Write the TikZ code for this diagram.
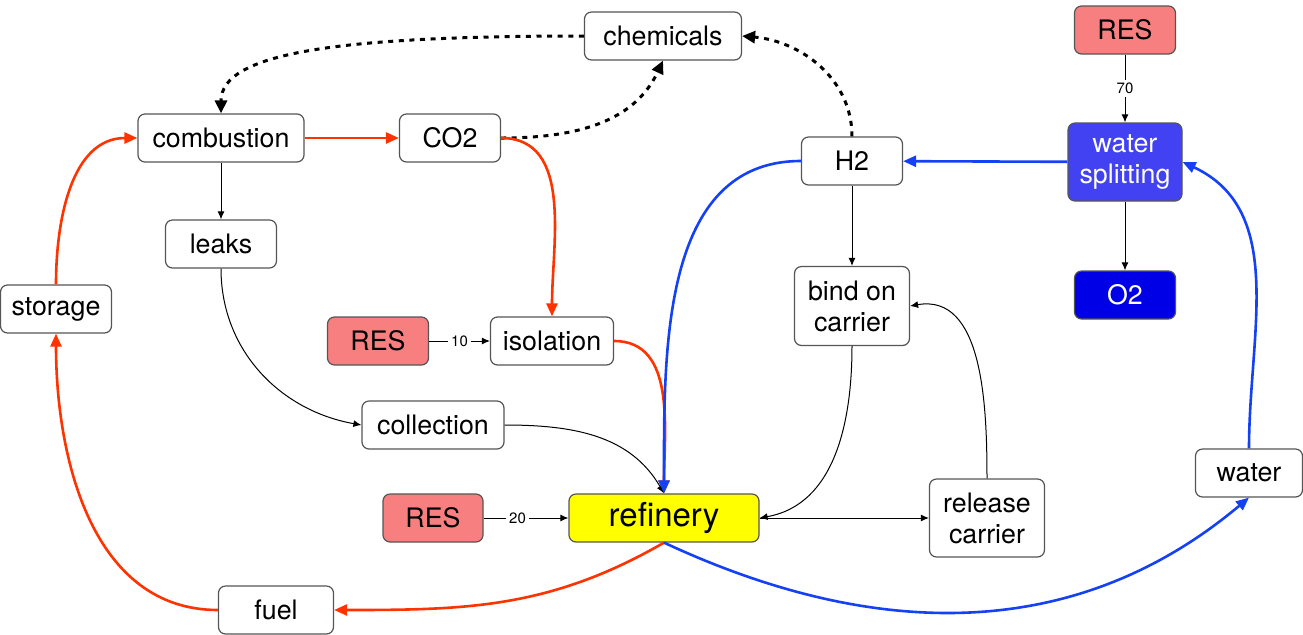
\documentclass[tikz,border=0pt]{standalone}
\usepackage{fontspec}
\setmainfont{TeX Gyre Heros}
\usepackage{xcolor}
\usepackage{tikz}
\usetikzlibrary{arrows.meta}
\definecolor{cRes}{HTML}{F77F7F}
\definecolor{cSplit}{HTML}{4242F2}
\definecolor{cOxy}{HTML}{0000E6}
\definecolor{cRef}{HTML}{FFFF00}
\definecolor{cRed}{HTML}{FF3300}
\definecolor{cBlue}{HTML}{1541F5}
\definecolor{cEdge}{HTML}{555555}
\tikzset{
  base/.style={rounded corners=3.5pt,draw=cEdge,align=center,font=\fontsize{13.4}{15.5}\selectfont,minimum height=24pt,inner sep=2pt,line width=0.6pt},
  box/.style={base,fill=white}, rnode/.style={base,fill=cRes},
  snode/.style={base,fill=cSplit,text=white}, onode/.style={base,fill=cOxy,text=white},
  fnode/.style={base,fill=cRef,font=\fontsize{16.5}{18}\selectfont},
  arr/.style={-{Latex[length=4pt,width=3.5pt]},line width=0.5pt},
  redarr/.style={-{Triangle[length=6.5pt,width=5.5pt]},line width=1.3pt,draw=cRed},
  bluearr/.style={-{Triangle[length=6.5pt,width=5.5pt]},line width=1.3pt,draw=cBlue},
  dotarr/.style={-{Triangle[length=6.5pt,width=6pt]},line width=1.5pt,dash pattern=on 2.5pt off 2.8pt},
  lbl/.style={font=\fontsize{7.5}{8}\selectfont,fill=white,inner sep=1.5pt}}

\begin{document}
\begin{tikzpicture}[x=0.5pt,y=0.5pt]
\useasboundingbox (0,0) rectangle (1303,-634);
% left loop
\node[box,minimum width=78.5pt] (chem) at (663,-36) {chemicals};
\node[box,minimum width=83pt] (comb) at (221,-138) {combustion};
\node[box,minimum width=50.5pt] (co2) at (450,-138) {CO2};
\node[box,minimum width=55.5pt] (leaks) at (221,-244) {leaks};
\node[box,minimum width=55.5pt] (stor) at (56,-309) {storage};
\node[rnode,minimum width=50.5pt] (res10) at (378,-341) {RES};
\node[box,minimum width=61.5pt] (iso) at (552,-341) {isolation};
\node[box,minimum width=71pt] (coll) at (433,-425) {collection};
\node[rnode,minimum width=50pt] (res20) at (433,-518) {RES};
\node[fnode,minimum width=95pt] (ref) at (664,-518) {refinery};
\node[box,minimum width=57.5pt] (fuel) at (276,-610) {fuel};
% hydrogen side
\node[box,minimum width=50.5pt] (h2) at (852,-161) {H2};
\node[box,minimum width=57.5pt,minimum height=39.5pt] (bind) at (852,-306) {bind on\\carrier};
\node[box,minimum width=57.5pt,minimum height=39pt] (rel) at (987,-518) {release\\carrier};
\node[rnode,minimum width=50.5pt] (res70) at (1125,-30) {RES};
\node[snode,minimum width=57pt,minimum height=39pt] (split) at (1125,-162) {water\\splitting};
\node[onode,minimum width=50.5pt] (o2) at (1125,-295) {O2};
\node[box,minimum width=53.5pt] (water) at (1249,-473) {water};

\draw[dotarr] (chem.west) .. controls +(-250,0) and +(0,60) .. (comb.north);
\draw[dotarr] (co2.east) to[out=0,in=-115] (chem.south);
\draw[dotarr] (h2.north) to[out=90,in=-5] (chem.east);

\draw[redarr] (comb) -- (co2);
\draw[redarr] (stor.north) to[out=90,in=180] (comb.west);
\draw[redarr] (co2.east) to[out=0,in=90] (iso.north);
\draw[redarr] (iso.east) to[out=0,in=90] (ref.north);
\draw[redarr] (ref.south) to[out=-150,in=0] (fuel.east);
\draw[redarr] (fuel.west) to[out=180,in=-90] (stor.south);

\draw[arr] (comb) -- (leaks);
\draw[arr] (leaks.south) to[out=-90,in=170] (coll.west);
\draw[arr] (coll.east) to[out=0,in=120] (ref.north);
\draw[arr] (res10) -- node[lbl]{10} (iso);
\draw[arr] (res20) -- node[lbl,pos=0.4]{20} (ref);

\draw[bluearr] (split) -- (h2);
\draw[bluearr] (h2.west) to[out=180,in=90] (ref.north);
\draw[bluearr] (ref.south) to[out=-25,in=-140] (water.south);
\draw[bluearr] (water.north) to[out=90,in=-25] (split.east);

\draw[arr] (res70) -- node[lbl]{70} (split);
\draw[arr] (split) -- (o2);
\draw[arr] (h2) -- (bind);
\draw[arr] (bind.south) to[out=-90,in=10] (ref.east);
\draw[arr] (ref) -- (rel);
\draw[arr] (rel.north) to[out=90,in=10] (bind.east);
\end{tikzpicture}
\end{document}
